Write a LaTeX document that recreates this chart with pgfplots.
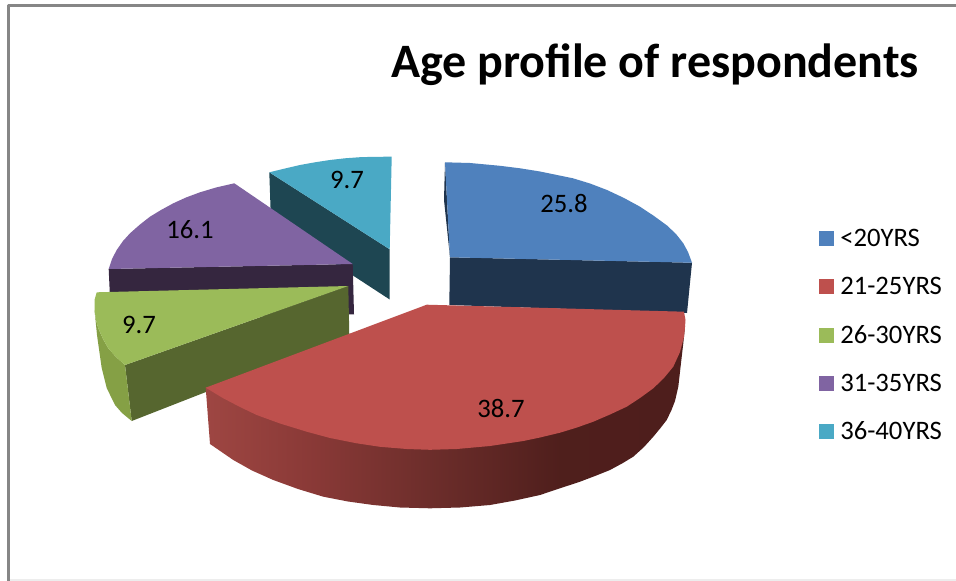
\documentclass[border=0pt]{standalone}
\usepackage{fontspec}
\setmainfont{Carlito}
\usepackage{pgfplots}
\pgfplotsset{compat=1.18}

\definecolor{bluetop}{HTML}{4F81BD}
\definecolor{blueside}{HTML}{1F344D}
\definecolor{redtop}{HTML}{BE504D}
\definecolor{greentop}{HTML}{9BBB59}
\definecolor{greenside}{HTML}{56662F}
\definecolor{greenrim}{HTML}{85A045}
\definecolor{purpletop}{HTML}{8064A2}
\definecolor{purpleside}{HTML}{35263F}
\definecolor{tealtop}{HTML}{4AA9C5}
\definecolor{tealside}{HTML}{1E4652}
\definecolor{frame}{HTML}{868686}

\tikzset{lbl/.style={font=\fontsize{20}{24}\selectfont, text=black, inner sep=0pt}}

% Outer wall of the large slice darkens from left to right
\pgfdeclarehorizontalshading{redwall}{100bp}{
  rgb(0bp)=(0.62,0.275,0.26);
  rgb(25bp)=(0.62,0.275,0.26);
  rgb(36bp)=(0.54,0.225,0.215);
  rgb(48bp)=(0.43,0.18,0.17);
  rgb(62bp)=(0.31,0.12,0.11);
  rgb(100bp)=(0.30,0.115,0.105)}

\begin{document}
\begin{tikzpicture}
\begin{axis}[
  scale only axis, width=717pt, height=435.75pt,
  xmin=0, xmax=956, ymin=0, ymax=581,
  y dir=reverse, hide axis,
  every axis plot/.append style={line join=round},
]
% page background and chart frame
\addplot[draw=none, fill=white] coordinates {(0,0) (956,0) (956,581) (0,581)} -- cycle;
\addplot[draw=frame, line width=2.3pt] coordinates {(8.5,581) (8.5,5.4) (956,5.4)};
\addplot[draw=black!7, line width=0.8pt] coordinates {(10,580) (956,580)};

% 36-40YRS
\addplot[draw=none, fill=tealside] coordinates {(269.3,172.3) (389.7,249.3) (389.7,299.5) (271,222)} -- cycle;
\addplot[draw=none, fill=tealtop] coordinates {(389.7,249.3) (269.3,172.3) (285,168.5) (300,165) (315,162.3) (330,160) (345,158.3) (360,157.2) (375,156.8) (391.7,156.7)} -- cycle;

% 31-35YRS
\addplot[draw=none, fill=purpleside] coordinates {(108.7,269) (352.7,264) (354,314.3) (111,320)} -- cycle;
\addplot[draw=none, fill=purpletop] coordinates {(352.7,264) (108.7,269) (112,259) (116.7,250) (123,241) (130,233.3) (140,224.5) (150,216.7) (161,210) (173.3,203.3) (186,197.5) (200,192.3) (216,187.5) (234.3,183.3)} -- cycle;

% 26-30YRS
\addplot[draw=none, fill=greenside] coordinates {(125,365) (348.3,286) (349.3,336) (131.7,421)} -- cycle;
\addplot[draw=none, fill=greenrim] coordinates {(94.5,310) (96,320) (98.3,328.3) (103,339) (108.3,348.3) (116,357) (125,365) (131.7,421) (122,413) (115,405) (106.7,388) (101.7,368) (97,335)} -- cycle;
\addplot[draw=none, fill=greentop] coordinates {(348.3,286) (96.7,292.3) (94.5,300) (94.5,310) (96,320) (98.3,328.3) (103,339) (108.3,348.3) (116,357) (125,365)} -- cycle;

% <20YRS
\addplot[draw=none, fill=blueside] coordinates {(445,162.3) (444,200) (450,257.3)} -- cycle;
\addplot[draw=none, fill=blueside] coordinates {(450,257.3) (692,262.7) (687,313) (449.3,305)} -- cycle;
\addplot[draw=none, fill=bluetop] coordinates {(450,257.3) (445,162.3) (470,163) (500,165.8) (520,168.3) (540,171.5) (573,178.3) (590,183.5) (607,190) (624,198) (640,206.7) (654,216) (667,225.5) (676,234) (683.3,243.3) (688,252) (692,262.7)} -- cycle;

% 21-25YRS
\addplot[draw=none, shade, shading=redwall] coordinates {(205.7,387.7) (210,444) (233.3,460) (252,470.5) (273.3,480) (298,489) (323.3,496.7) (348,501.5) (373.3,505) (400,507.5) (430,508.3) (460,507.5) (490,505) (515,500.5) (540,495) (560,488.3) (580,481.7) (595,476) (610,470) (622,463.5) (633.3,456.7) (644,447) (653.3,436.7) (660.5,428) (666.7,420) (671.5,410) (675,401) (678.3,386.7) (681,363) (683.3,343.3) (685,326.7)} -- cycle;
\addplot[draw=none, fill=redtop] coordinates {(426.7,304.7) (684,311.7) (685.5,320) (685,327) (684,337) (680,352) (673.3,366.7) (664,378) (653.3,388.3) (640,398) (626.7,406.7) (610,414.5) (593.3,421.7) (577,427.5) (560,432.7) (540,437.5) (523.3,441) (490,446) (456.7,449) (430,449.8) (406.7,449) (380,446.8) (356.7,443.3) (330,438) (306.7,431.7) (280,423.5) (256.7,415) (240,407) (223.3,398.3) (205.7,387.7)} -- cycle;

% legend keys
\addplot[draw=none, fill=bluetop] coordinates {(819,231) (834,231) (834,246) (819,246)} -- cycle;
\addplot[draw=none, fill=redtop] coordinates {(819,279) (834,279) (834,294) (819,294)} -- cycle;
\addplot[draw=none, fill=greentop] coordinates {(819,328) (834,328) (834,343) (819,343)} -- cycle;
\addplot[draw=none, fill=purpletop] coordinates {(819,376) (834,376) (834,391) (819,391)} -- cycle;
\addplot[draw=none, fill=tealtop] coordinates {(819,424) (834,424) (834,439) (819,439)} -- cycle;

% legend texts
\node[lbl, anchor=base west] at (axis cs:840,246) {<20YRS};
\node[lbl, anchor=base west] at (axis cs:840,294) {21-25YRS};
\node[lbl, anchor=base west] at (axis cs:840,343) {26-30YRS};
\node[lbl, anchor=base west] at (axis cs:840,391) {31-35YRS};
\node[lbl, anchor=base west] at (axis cs:840,439) {36-40YRS};

% value labels
\node[lbl, anchor=base] at (axis cs:564,212) {25.8};
\node[lbl, anchor=base] at (axis cs:501,417) {38.7};
\node[lbl, anchor=base] at (axis cs:139,333) {9.7};
\node[lbl, anchor=base] at (axis cs:190,238) {16.1};
\node[lbl, anchor=base] at (axis cs:347,188) {9.7};

% title
\node[anchor=base, inner sep=0pt, font=\fontsize{36}{43}\selectfont\bfseries] at (axis cs:655,77.5) {Age profile of respondents};
\end{axis}
\end{tikzpicture}
\end{document}
